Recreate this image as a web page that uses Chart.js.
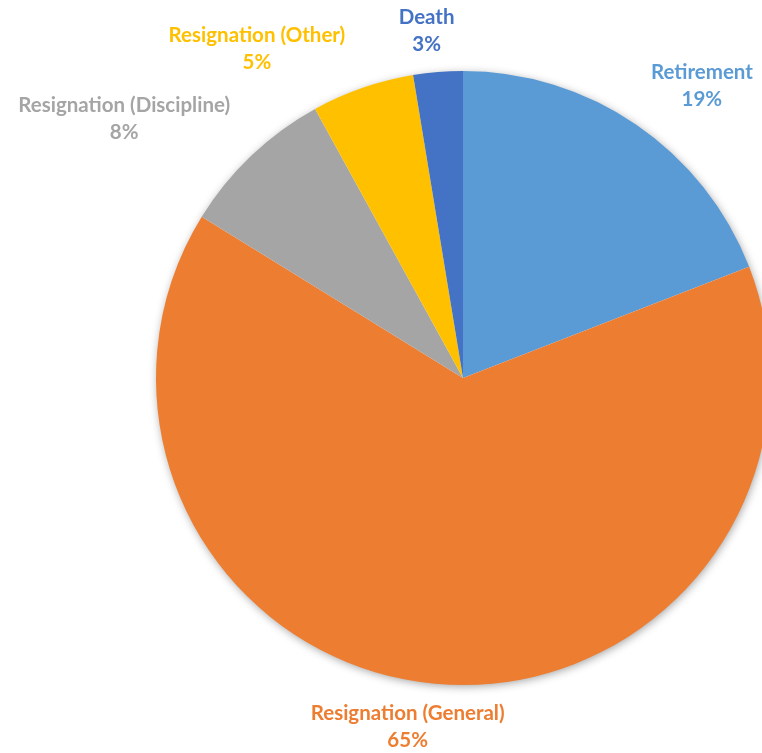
<!DOCTYPE html>
<html>
<head>
<meta charset="utf-8">
<script src="https://cdn.jsdelivr.net/npm/chart.js@4"></script>
<style>
html,body{margin:0;padding:0;overflow:hidden;background:#fff;width:762px;height:753px;}
#wrap{position:absolute;left:0;top:0;width:926px;height:753px;}
</style>
</head>
<body>
<div id="wrap"><canvas id="c"></canvas></div>
<script>
// Data
const categories = ['Retirement', 'Resignation (General)', 'Resignation (Discipline)', 'Resignation (Other)', 'Death'];
const shares = [19.1, 64.7, 8.2, 5.4, 2.6];
const percentLabels = ['19%', '65%', '8%', '5%', '3%'];

// Styling / layout
const sliceColors = ['#5B9BD5', '#ED7D31', '#A5A5A5', '#FFC000', '#4472C4'];
const labelRadiusFactor = [1.229, 1.15, 1.39, 1.264, 1.137];
const labelAngleShiftDeg = [4.9, 3.8, -9, -13, -1.3];

const shadowPlugin = {
  id: 'pieShadow',
  beforeDatasetsDraw(chart) {
    const arc = chart.getDatasetMeta(0).data[0];
    if (!arc) return;
    const ctx = chart.ctx;
    ctx.save();
    ctx.shadowColor = 'rgba(0,0,0,0.4)';
    ctx.shadowBlur = 10;
    ctx.shadowOffsetX = 1;
    ctx.shadowOffsetY = 2;
    ctx.fillStyle = '#ffffff';
    ctx.beginPath();
    ctx.arc(arc.x, arc.y, arc.outerRadius - 1, 0, Math.PI * 2);
    ctx.fill();
    ctx.restore();
  }
};

const labelPlugin = {
  id: 'outLabels',
  afterDatasetsDraw(chart) {
    const ctx = chart.ctx;
    const meta = chart.getDatasetMeta(0);
    ctx.save();
    ctx.font = 'bold 20.5px Lato, "Open Sans", sans-serif';
    ctx.textAlign = 'center';
    ctx.textBaseline = 'middle';
    meta.data.forEach((arc, i) => {
      const mid = (arc.startAngle + arc.endAngle) / 2 + labelAngleShiftDeg[i] * Math.PI / 180;
      const r = arc.outerRadius * labelRadiusFactor[i];
      const x = arc.x + Math.cos(mid) * r;
      const y = arc.y + Math.sin(mid) * r;
      ctx.fillStyle = sliceColors[i];
      ctx.fillText(categories[i], x, y - 13.5);
      ctx.fillText(percentLabels[i], x, y + 13.5);
    });
    ctx.restore();
  }
};

new Chart(document.getElementById('c'), {
  type: 'pie',
  data: {
    labels: categories,
    datasets: [{
      data: shares,
      backgroundColor: sliceColors,
      borderWidth: 0
    }]
  },
  options: {
    responsive: true,
    maintainAspectRatio: false,
    animation: false,
    layout: { padding: { top: 71, bottom: 68, left: 0, right: 0 } },
    plugins: { legend: { display: false }, tooltip: { enabled: false } }
  },
  plugins: [shadowPlugin, labelPlugin]
});
</script>
</body>
</html>
